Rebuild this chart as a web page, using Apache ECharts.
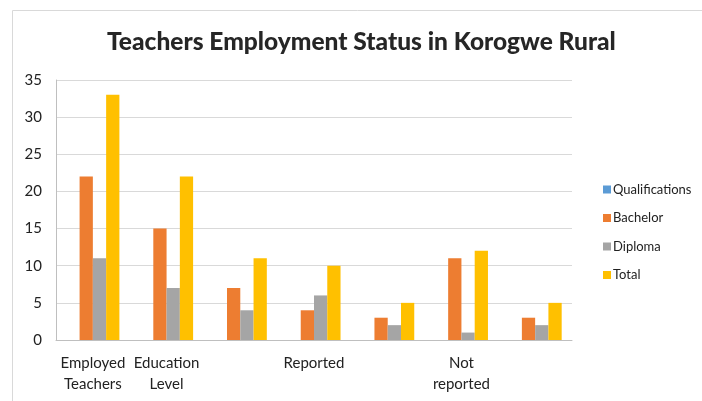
<!DOCTYPE html>
<html>
<head>
<meta charset="utf-8">
<style>html,body{margin:0;padding:0;background:#fff;}#c{width:702px;height:401px;}</style>
<script src="https://cdn.jsdelivr.net/npm/echarts@6/dist/echarts.min.js"></script>
</head>
<body>
<div id="c"></div>
<script>
const categories = ["Employed\nTeachers", "Education\nLevel", "", "Reported", "", "Not\nreported", ""];
const seriesNames = ["Qualifications", "Bachelor", "Diploma", "Total"];
const qualifications = [null, null, null, null, null, null, null];
const bachelor = [22, 15, 7, 4, 3, 11, 3];
const diploma = [11, 7, 4, 6, 2, 1, 2];
const total = [33, 22, 11, 10, 5, 12, 5];
const yTicks = [0, 5, 10, 15, 20, 25, 30, 35];

const colors = ["#5B9BD5", "#ED7D31", "#A5A5A5", "#FFC000"];
const font = "Lato, 'Open Sans', sans-serif";
const chart = echarts.init(document.getElementById('c'), null, {renderer: 'canvas'});
const dataSets = [qualifications, bachelor, diploma, total];
chart.setOption({
  animation: false,
  color: colors,
  graphic: [{
    type: 'rect', shape: {x: 12.5, y: 10.5, width: 720, height: 420},
    style: {fill: 'none', stroke: '#d9d9d9', lineWidth: 1}, silent: true
  }],
  title: {
    text: "Teachers Employment Status in Korogwe Rural",
    left: 102, top: 25,
    textStyle: {fontFamily: font, fontWeight: 900, fontSize: 24.5, color: '#262626'}
  },
  legend: {
    orient: 'vertical', left: 598, top: 178,
    itemWidth: 8, itemHeight: 8, itemGap: 15.5, icon: 'rect',
    textStyle: {fontFamily: font, fontSize: 13, color: '#222', padding: [0, 0, 0, -3]},
    data: seriesNames
  },
  grid: {left: 56, top: 80, width: 516, height: 260, containLabel: false},
  xAxis: {
    type: 'category', data: categories,
    axisLine: {lineStyle: {color: '#bfbfbf'}},
    axisTick: {show: false},
    axisLabel: {interval: 0, fontFamily: font, fontSize: 15, color: '#222', margin: 13, lineHeight: 21}
  },
  yAxis: {
    type: 'value', min: 0, max: 35, interval: 5,
    axisLine: {show: true, lineStyle: {color: '#bfbfbf'}},
    axisTick: {show: false},
    splitLine: {lineStyle: {color: '#d9d9d9'}},
    axisLabel: {fontFamily: font, fontSize: 15, color: '#222', margin: 14,
      formatter: v => yTicks.includes(v) ? String(v) : ''}
  },
  series: seriesNames.map((n, i) => ({
    name: n, type: 'bar', data: dataSets[i],
    barGap: '0%', barCategoryGap: '28%'
  }))
});
</script>
</body>
</html>
